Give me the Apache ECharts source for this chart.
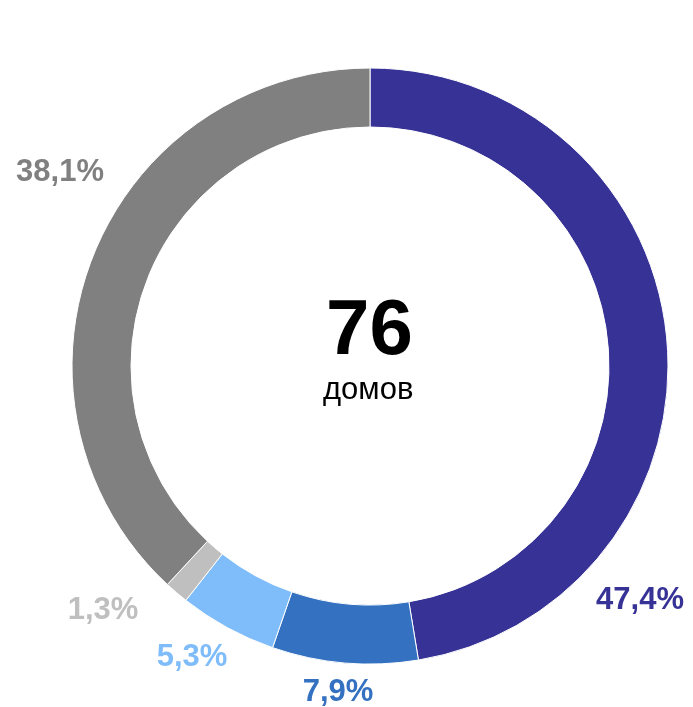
<!DOCTYPE html>
<html>
<head>
<meta charset="utf-8">
<script src="https://cdn.jsdelivr.net/npm/echarts@6/dist/echarts.min.js"></script>
<style>
  html, body { margin: 0; padding: 0; background: #fff; }
  #chart { width: 693px; height: 707px; }
</style>
</head>
<body>
<div id="chart"></div>
<script>
// share of houses, %, clockwise from 12 o'clock
const categories = ['A', 'B', 'C', 'D', 'E'];
const shares = [47.4, 7.9, 5.3, 1.3, 38.1];
const total = 76;
const totalLabel = 'домов';

const colors = ['#373296', '#3471c0', '#7fbcfa', '#bfbfbf', '#808080'];
// where each percent label sits (px), placed by hand like the source
const labelPos = [[640, 600], [338, 692], [192, 657], [103, 610], [60, 172]];

const chart = echarts.init(document.getElementById('chart'));

chart.setOption({
    backgroundColor: '#fff',
    animation: false,
    color: colors,
    graphic: [
        {
            type: 'text',
            top: 293,
            left: 370 - 44,
            style: {
                text: String(total),
                font: 'bold 78px "Liberation Sans", Arial, sans-serif',
                fill: '#000'
            }
        },
        {
            type: 'text',
            top: 375,
            left: 370 - 47,
            style: {
                text: totalLabel,
                font: '31px "Liberation Sans", Arial, sans-serif',
                fill: '#000'
            }
        }
    ],
    series: [
        {
            type: 'pie',
            center: [370, 366],
            radius: [239, 298],
            startAngle: 90,
            clockwise: true,
            silent: true,
            avoidLabelOverlap: false,
            itemStyle: { borderColor: '#fff', borderWidth: 1 },
            label: {
                show: true,
                position: 'outside',
                overflow: 'none',
                width: 200,
                fontFamily: '"Liberation Sans", Arial, sans-serif',
                fontSize: 31,
                fontWeight: 'bold',
                formatter: p => p.value.toFixed(1).replace('.', ',') + '%'
            },
            labelLine: { show: false },
            labelLayout: p => ({
                x: labelPos[p.dataIndex][0],
                y: labelPos[p.dataIndex][1],
                align: 'center',
                verticalAlign: 'middle',
                hideOverlap: false
            }),
            data: shares.map((v, i) => ({
                name: categories[i],
                value: v,
                label: { color: colors[i] }
            }))
        }
    ]
});
</script>
</body>
</html>
